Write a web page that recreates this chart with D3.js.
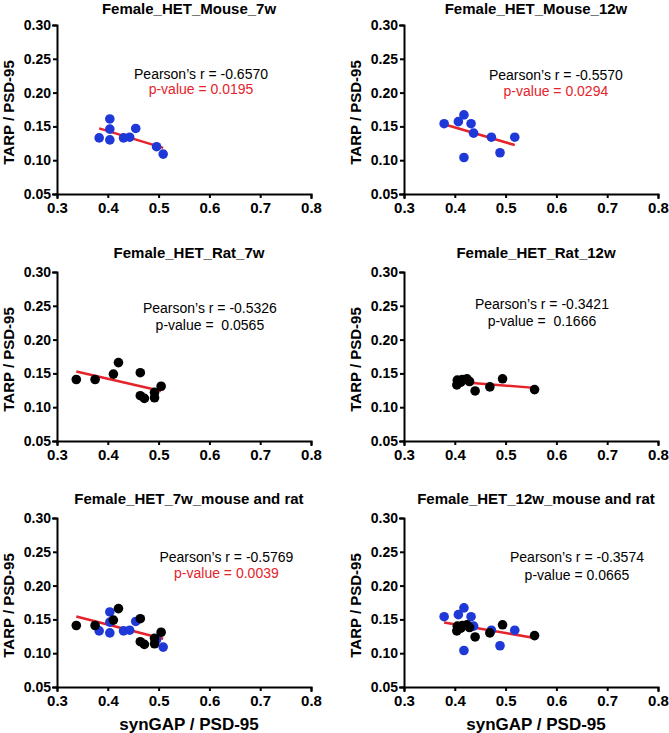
<!DOCTYPE html>
<html>
<head>
<meta charset="utf-8">
<script src="https://cdn.jsdelivr.net/npm/d3@7/dist/d3.min.js"></script>
<style>
    body { margin: 0; background: #fff; }
    svg { font-family: "Liberation Sans", Arial, sans-serif; display: block; }
    .axis path, .axis line { stroke: #000; stroke-width: 2px; }
    .axis text { font-weight: bold; font-size: 14px; fill: #000; font-family: "Liberation Sans", Arial, sans-serif; }
    .axis.x text { font-size: 15px; }
    .title { font-weight: bold; font-size: 15px; }
    .ylabel { font-weight: bold; font-size: 15px; }
    .xlabel { font-weight: bold; font-size: 17px; }
    .stat { font-size: 14px; white-space: pre; }
</style>
</head>
<body>
<div id="chart"></div>
<script>
// synGAP / PSD-95 (x) vs TARP / PSD-95 (y)
var mouse7wX = [0.383, 0.404, 0.404, 0.404, 0.431, 0.443, 0.455, 0.496, 0.509];
var mouse7wY = [0.133, 0.161, 0.146, 0.130, 0.133, 0.134, 0.147, 0.120, 0.109];

var mouse12wX = [0.379, 0.407, 0.418, 0.432, 0.437, 0.418, 0.472, 0.489, 0.518];
var mouse12wY = [0.154, 0.157, 0.167, 0.154, 0.140, 0.104, 0.134, 0.111, 0.134];

var rat7wX = [0.338, 0.375, 0.411, 0.421, 0.464, 0.464, 0.472, 0.492, 0.492, 0.505];
var rat7wY = [0.141, 0.141, 0.149, 0.166, 0.151, 0.117, 0.113, 0.122, 0.114, 0.131];

var rat12wX = [0.404, 0.405, 0.412, 0.415, 0.424, 0.429, 0.440, 0.469, 0.494, 0.557];
var rat12wY = [0.133, 0.140, 0.137, 0.141, 0.142, 0.138, 0.124, 0.130, 0.142, 0.126];

var panelTitles = ["Female_HET_Mouse_7w", "Female_HET_Mouse_12w", "Female_HET_Rat_7w",
    "Female_HET_Rat_12w", "Female_HET_7w_mouse and rat", "Female_HET_12w_mouse and rat"];
var pearsonR = ["-0.6570", "-0.5570", "-0.5326", "-0.3421", "-0.5769", "-0.3574"];
var pValues = ["0.0195", "0.0294", " 0.0565", " 0.1666", "0.0039", "0.0665"];
var pSignificant = [true, true, false, false, true, false];

var xTicks = [0.3, 0.4, 0.5, 0.6, 0.7, 0.8];
var yTicks = [0.05, 0.10, 0.15, 0.20, 0.25, 0.30];

var blue = "#1f38d8", black = "#000", red = "#e5232a";

function pts(xs, ys) {
    return xs.map(function (x, i) { return {x: x, y: ys[i]}; });
}

var panels = [
    {groups: [{data: pts(mouse7wX, mouse7wY), color: blue}]},
    {groups: [{data: pts(mouse12wX, mouse12wY), color: blue}]},
    {groups: [{data: pts(rat7wX, rat7wY), color: black}]},
    {groups: [{data: pts(rat12wX, rat12wY), color: black}]},
    {groups: [{data: pts(mouse7wX, mouse7wY), color: blue}, {data: pts(rat7wX, rat7wY), color: black}]},
    {groups: [{data: pts(mouse12wX, mouse12wY), color: blue}, {data: pts(rat12wX, rat12wY), color: black}]}
];

// layout
var W = 669, H = 733;
var colLeft = [57, 404], plotW = 254, plotH = 169;
var rowTop = [25, 272, 518];
var statFx = [0.567, 0.598, 0.602, 0.543, 0.667, 0.681];
var statDy = [54, 55, 41, 37, 43.5, 43.5];
var statGap = [15, 15.5, 16.5, 16.5, 16.5, 18];

var svg = d3.select("#chart").append("svg")
    .attr("width", W)
    .attr("height", H);

function fit(data) {
    var mx = d3.mean(data, function (d) { return d.x; }),
        my = d3.mean(data, function (d) { return d.y; });
    var sxy = d3.sum(data, function (d) { return (d.x - mx) * (d.y - my); }),
        sxx = d3.sum(data, function (d) { return (d.x - mx) * (d.x - mx); });
    var b = sxy / sxx;
    var ext = d3.extent(data, function (d) { return d.x; });
    return ext.map(function (x) { return {x: x, y: my + b * (x - mx)}; });
}

panels.forEach(function (p, i) {
    var col = i % 2, row = Math.floor(i / 2);
    var g = svg.append("g")
        .attr("transform", "translate(" + colLeft[col] + "," + rowTop[row] + ")");

    var x = d3.scaleLinear().domain([0.3, 0.8]).range([0, plotW]),
        y = d3.scaleLinear().domain([0.05, 0.30]).range([plotH, 0]);

    g.append("g")
        .attr("class", "axis x")
        .attr("transform", "translate(0," + plotH + ")")
        .call(d3.axisBottom(x).tickValues(xTicks).tickFormat(d3.format(".1f"))
            .tickSizeOuter(0).tickSize(4).tickPadding(4));

    g.append("g")
        .attr("class", "axis y")
        .call(d3.axisLeft(y).tickValues(yTicks).tickFormat(d3.format(".2f"))
            .tickSizeOuter(0).tickSize(4).tickPadding(2));

    g.selectAll(".axis .domain").attr("stroke-linecap", "square");

    g.append("text")
        .attr("class", "title")
        .attr("x", plotW / 2 + 5)
        .attr("y", row === 0 ? -11 : -14)
        .attr("text-anchor", "middle")
        .text(panelTitles[i]);

    g.append("text")
        .attr("class", "ylabel")
        .attr("transform", "translate(-43," + (plotH / 2 + 3) + ") rotate(-90)")
        .attr("text-anchor", "middle")
        .text("TARP / PSD-95");

    if (row === 2) {
        g.append("text")
            .attr("class", "xlabel")
            .attr("x", plotW / 2 + 5)
            .attr("y", plotH + 43)
            .attr("text-anchor", "middle")
            .text("synGAP / PSD-95");
    }

    var all = [];
    p.groups.forEach(function (grp) { all = all.concat(grp.data); });

    var line = d3.line()
        .x(function (d) { return x(d.x); })
        .y(function (d) { return y(d.y); });

    g.append("path")
        .datum(fit(all))
        .attr("d", line)
        .attr("fill", "none")
        .attr("stroke", red)
        .attr("stroke-width", 2.5);

    p.groups.forEach(function (grp) {
        g.append("g").selectAll("circle")
            .data(grp.data)
            .enter()
            .append("circle")
            .attr("cx", function (d) { return x(d.x); })
            .attr("cy", function (d) { return y(d.y); })
            .attr("r", 4.8)
            .attr("fill", grp.color);
    });

    var sx = statFx[i] * plotW;
    g.append("text")
        .attr("class", "stat")
        .attr("x", sx)
        .attr("y", statDy[i])
        .attr("text-anchor", "middle")
        .attr("fill", "#000")
        .text("Pearson\u2019s r = " + pearsonR[i]);

    g.append("text")
        .attr("class", "stat")
        .attr("x", sx)
        .attr("y", statDy[i] + statGap[i])
        .attr("text-anchor", "middle")
        .attr("fill", pSignificant[i] ? red : "#000")
        .text("p-value = " + pValues[i]);
});
</script>
</body>
</html>
